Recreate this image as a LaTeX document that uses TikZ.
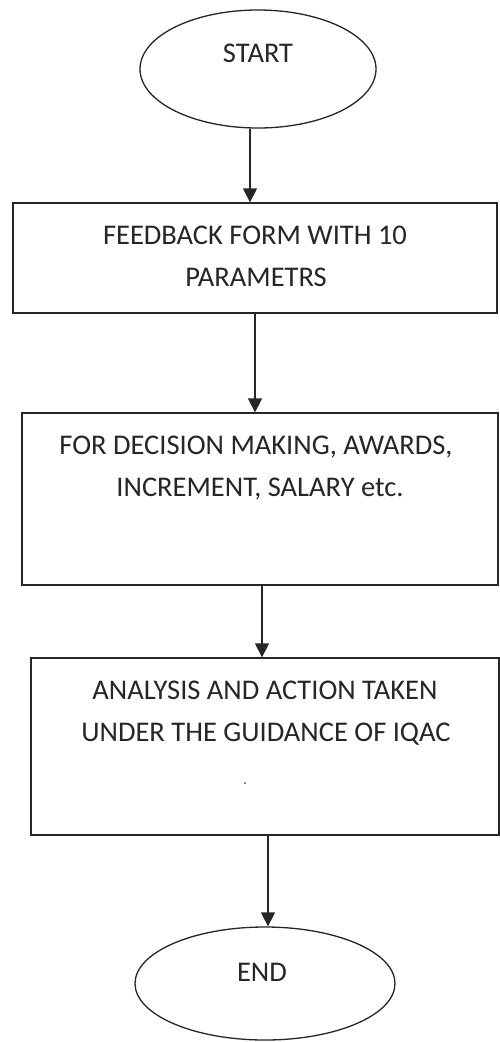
\documentclass[tikz,border=0pt]{standalone}
\usepackage{fontspec}
\setmainfont{Carlito}
\usetikzlibrary{arrows.meta,shapes.geometric}
\begin{document}
\begin{tikzpicture}[x=1pt,y=-1pt,
  line width=1.3pt,
  term/.style={draw=black!85,ellipse,inner sep=0pt},
  procbox/.style={draw=black!85,rectangle,inner sep=0pt},
  lbl/.style={font=\fontsize{28.5}{34}\selectfont,text=black!85,inner sep=0pt,anchor=base},
  arr/.style={-{Triangle[length=14pt,width=14pt]},draw=black!85}]
\useasboundingbox (0,0) rectangle (500,1042);
\fill[white] (0,0) rectangle (500,1042);
% shapes
\node[term,minimum width=236pt,minimum height=118pt] (start) at (258,69) {};
\node[procbox,minimum width=484pt,minimum height=110pt] (b1) at (255,258) {};
\node[procbox,minimum width=476pt,minimum height=172pt] (b2) at (260,499) {};
\node[procbox,minimum width=468pt,minimum height=177pt] (b3) at (265,746.5) {};
\node[term,minimum width=260pt,minimum height=113pt] (end) at (265,983.5) {};
% texts
\node[lbl] (tstart) at (258,62) {START};
\node[lbl] (t1a) at (255,244) {FEEDBACK FORM WITH 10};
\node[lbl] (t1b) at (256,286) {PARAMETRS};
\node[lbl] (t2a) at (256,454) {FOR DECISION MAKING, AWARDS,};
\node[lbl] (t2b) at (260,496) {INCREMENT, SALARY etc.};
\node[lbl] (t3a) at (265,699) {ANALYSIS AND ACTION TAKEN};
\node[lbl] (t3b) at (266,741) {UNDER THE GUIDANCE OF IQAC};
\node[fill=black!70,circle,inner sep=0pt,minimum size=2pt] (speck) at (245,783) {};
\node[lbl] (tend) at (262,981) {END};
% connectors
\draw[arr] ([xshift=-8pt]start.south) -- ([xshift=-5pt]b1.north);
\draw[arr] (b1.south) -- (b1.south |- b2.north);
\draw[arr] ([xshift=2pt]b2.south) -- ([xshift=2pt]b2.south |- b3.north);
\draw[arr] ([xshift=3pt]b3.south) -- ([xshift=3pt]b3.south |- end.north);
\end{tikzpicture}
\end{document}
